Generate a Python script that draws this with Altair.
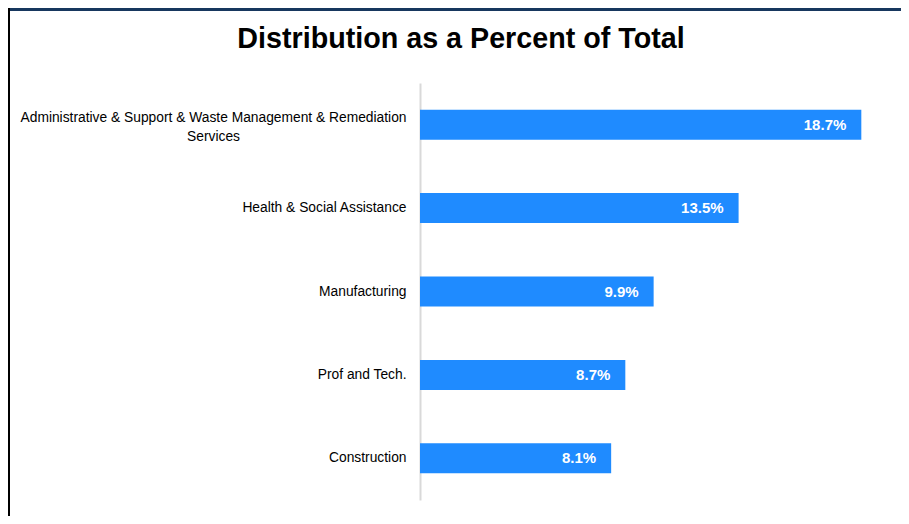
import altair as alt
import pandas as pd

categories = [
    "Administrative & Support & Waste Management & Remediation Services",
    "Health & Social Assistance",
    "Manufacturing",
    "Prof and Tech.",
    "Construction",
]
values = [18.7, 13.5, 9.9, 8.7, 8.1]
value_labels = ["18.7%", "13.5%", "9.9%", "8.7%", "8.1%"]

df = pd.DataFrame({"industry": categories, "pct": values, "label": value_labels})

LONG = categories[0]
FONT = "Liberation Sans, Arial, sans-serif"
BAR_COLOR = "#1f8bff"
IS_LONG = f"datum.value == '{LONG}'"

y_enc = alt.Y(
    "industry:N",
    sort=categories,
    title=None,
    scale=alt.Scale(paddingInner=0.64, paddingOuter=0.32),
    axis=alt.Axis(
        domainColor="#d9d9d9",
        domainWidth=2,
        ticks=False,
        grid=False,
        labelFont=FONT,
        labelFontSize=13.8,
        labelColor="#000000",
        labelLimit=600,
        labelLineHeight=19,
        labelBaseline="middle",
        labelExpr=(
            f"{IS_LONG} ? "
            "['Administrative & Support & Waste Management & Remediation', 'Services'] : datum.value"
        ),
        labelAlign={"condition": {"test": IS_LONG, "value": "center"}, "value": "right"},
        labelPadding={"condition": {"test": IS_LONG, "value": 207}, "value": 14},
        labelOffset={"condition": {"test": IS_LONG, "value": -7}, "value": 0},
    ),
)

x_enc = alt.X("pct:Q", axis=None, scale=alt.Scale(domain=[0, 20], nice=False))

base = alt.Chart(df)

bars = base.mark_bar(color=BAR_COLOR).encode(x=x_enc, y=y_enc)

texts = base.mark_text(
    align="right", baseline="middle", dx=-15, color="white",
    font=FONT, fontSize=15, fontWeight="bold",
).encode(x=x_enc, y=alt.Y("industry:N", sort=categories), text="label:N")

frame_data = alt.Data(values=[{"k": 1}])
top_rule = alt.Chart(frame_data).mark_rule(color="#17375e", strokeWidth=3).encode(
    x=alt.value(-412), x2=alt.value(481), y=alt.value(-73.5)
)
left_rule = alt.Chart(frame_data).mark_rule(color="#000000", strokeWidth=2).encode(
    x=alt.value(-411), y=alt.value(-75), y2=alt.value(433)
)

chart = alt.layer(bars, texts, top_rule, left_rule).properties(
    width=472,
    height=417,
    background="white",
    autosize=alt.AutoSizeParams(type="none"),
    padding={"left": 412, "top": 75, "right": 9, "bottom": 16},
    title=alt.TitleParams(
        "Distribution as a Percent of Total",
        font=FONT,
        fontSize=28.7,
        fontWeight="bold",
        color="#000000",
        anchor="middle",
        dx=-195,
        baseline="alphabetic",
        offset=-70,
    ),
).configure_view(strokeWidth=0, stroke=None)

chart.save("out.html", embed_options={"renderer": "svg", "actions": False})
